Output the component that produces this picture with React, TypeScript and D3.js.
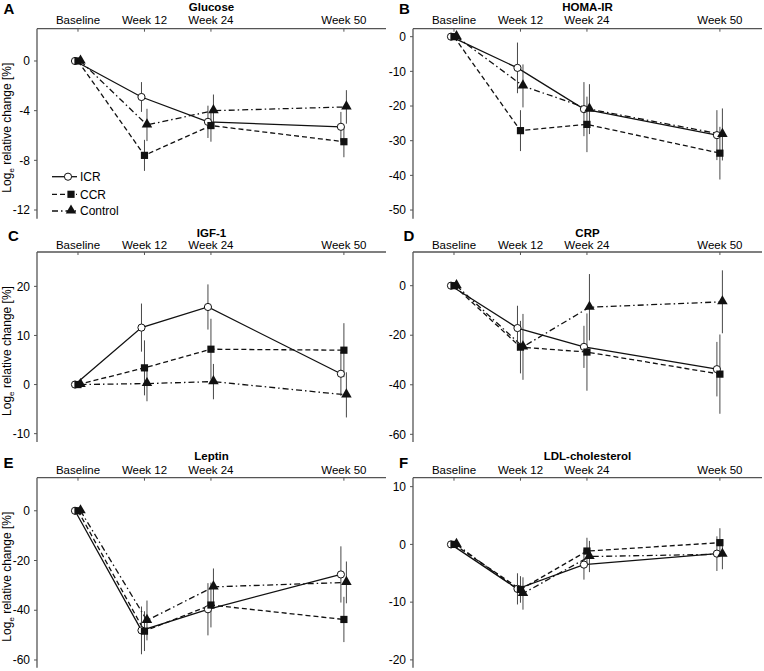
import React from "react";
import * as d3 from "d3";

// time points: plotted position (weeks) and label
const timeWeeks = [0, 12, 24, 48];
const timeLabels = ["Baseline", "Week 12", "Week 24", "Week 50"];
const groups = ["ICR", "CCR", "Control"];

// means per group [ICR, CCR, Control], then errors
const glucoseMeans = [
  [0, -2.9, -4.9, -5.3],
  [0, -7.6, -5.2, -6.5],
  [0, -5.15, -4.0, -3.7],
];
const glucoseErrs = [
  [0, 1.2, 1.3, 1.2],
  [0, 1.25, 1.3, 1.25],
  [0, 1.3, 1.3, 1.35],
];
const homaMeans = [
  [0, -9, -20.9, -28.4],
  [0, -27.1, -25.3, -33.6],
  [0, -14.2, -20.9, -28.2],
];
const homaErrs = [
  [0, 7.3, 7.8, 7.2],
  [0, 5.9, 8, 7.6],
  [0, 6.2, 7.2, 7.5],
];
const igfMeans = [
  [0, 11.6, 15.8, 2.2],
  [0, 3.4, 7.2, 7.0],
  [0, 0.2, 0.6, -2.1],
];
const igfErrs = [
  [0, 4.9, 4.6, 4.5],
  [0, 5.6, 6.2, 5.5],
  [0, 3.6, 3.6, 4.6],
];
const crpMeans = [
  [0, -17.1, -24.7, -33.7],
  [0, -24.8, -26.8, -35.7],
  [0, -24.7, -8.7, -6.5],
];
const crpErrs = [
  [0, 9, 8.5, 11],
  [0, 10.6, 15.6, 16],
  [0, 13.3, 13.4, 12.7],
];
const leptinMeans = [
  [0, -48.1, -39.6, -25.6],
  [0, -48.4, -37.9, -43.7],
  [0, -44.1, -30.6, -28.8],
];
const leptinErrs = [
  [0, 9.6, 10.5, 11.3],
  [0, 8, 9, 9.1],
  [0, 8, 7.4, 8.4],
];
const ldlMeans = [
  [0, -7.7, -3.5, -1.6],
  [0, -7.8, -1.15, 0.3],
  [0, -8.5, -2.1, -1.7],
];
const ldlErrs = [
  [0, 2.7, 2.6, 3],
  [0, 2.3, 2.3, 2.5],
  [0, 2.8, 2.7, 2.6],
];

const panels = [
  { letter: "A", title: "Glucose", means: glucoseMeans, errs: glucoseErrs, domain: [-12.7, 2.6], ticks: [0, -4, -8, -12], col: 0, row: 0, lx: 3.5 },
  { letter: "B", title: "HOMA-IR", means: homaMeans, errs: homaErrs, domain: [-52.5, 2.3], ticks: [0, -10, -20, -30, -40, -50], col: 1, row: 0, lx: 399 },
  { letter: "C", title: "IGF-1", means: igfMeans, errs: igfErrs, domain: [-11.7, 27], ticks: [20, 10, 0, -10], col: 0, row: 1, lx: 8 },
  { letter: "D", title: "CRP", means: crpMeans, errs: crpErrs, domain: [-63.1, 13.6], ticks: [0, -20, -40, -60], col: 1, row: 1, lx: 403.5 },
  { letter: "E", title: "Leptin", means: leptinMeans, errs: leptinErrs, domain: [-63.1, 13.3], ticks: [0, -20, -40, -60], col: 0, row: 2, lx: 3.5 },
  { letter: "F", title: "LDL-cholesterol", means: ldlMeans, errs: ldlErrs, domain: [-21.35, 11.55], ticks: [10, 0, -10, -20], col: 1, row: 2, lx: 399 },
];

const colLeft = [37, 413];
const rows = [
  { top: 28.7, titleY: 10.5, letterY: 13.5, tickY: 24 },
  { top: 252, titleY: 237, letterY: 240.5, tickY: 248.8 },
  { top: 477.7, titleY: 459.5, letterY: 468, tickY: 474 },
];
const plotW = 349;
const plotH = 190;
const font = "'Liberation Sans', Arial, sans-serif";
const axisColor = "#555";
const dashes = [null, "5,3", "6,3,1.5,3"];
const dodge = [-3, 0, 2.5];

const x = d3.scaleLinear().domain([-7.4, 55.6]).range([0, plotW]);

function Marker({ g, cx, cy }: { g: number; cx: number; cy: number }) {
  if (g === 0)
    return <circle cx={cx} cy={cy} r={3.6} fill="white" stroke="#111" strokeWidth={1} />;
  if (g === 1)
    return <rect x={cx - 3.6} y={cy - 3.6} width={7.2} height={7.2} fill="#111" />;
  const tri = d3.symbol().type(d3.symbolTriangle).size(48)();
  return <path d={tri || ""} transform={`translate(${cx},${cy - 0.5})`} fill="#111" />;
}

function Panel({ p }: { p: (typeof panels)[number] }) {
  const left = colLeft[p.col];
  const r = rows[p.row];
  const y = d3.scaleLinear().domain(p.domain).range([plotH, 0]);
  const line = d3
    .line<number>()
    .x((_, i) => x(timeWeeks[i]))
    .y((d) => y(d));
  return (
    <g>
      <text x={p.lx} y={r.letterY} fontFamily={font} fontWeight="bold" fontSize={15}>
        {p.letter}
      </text>
      <text x={left + plotW / 2} y={r.titleY} fontFamily={font} fontWeight="bold" fontSize={11.5} textAnchor="middle">
        {p.title}
      </text>
      {timeWeeks.map((w, i) => (
        <text key={i} x={left + x(w)} y={r.tickY} fontFamily={font} fontSize={11.5} textAnchor="middle">
          {timeLabels[i]}
        </text>
      ))}
      <g transform={`translate(${left},${r.top})`}>
        <line x1={0} x2={plotW} y1={0} y2={0} stroke={axisColor} strokeWidth={1.3} />
        <line x1={0} x2={0} y1={0} y2={plotH} stroke={axisColor} strokeWidth={1.3} />
        {timeWeeks.map((w, i) => (
          <line key={i} x1={x(w)} x2={x(w)} y1={0} y2={3} stroke={axisColor} strokeWidth={1} />
        ))}
        {p.ticks.map((t) => (
          <g key={t}>
            <line x1={-3} x2={0} y1={y(t)} y2={y(t)} stroke={axisColor} strokeWidth={1} />
            <text x={-7} y={y(t)} dy="0.35em" fontFamily={font} fontSize={12} textAnchor="end">
              {t}
            </text>
          </g>
        ))}
        {p.means.map((m, g) => (
          <path
            key={"l" + g}
            d={line(m) || ""}
            transform={`translate(${dodge[g]},0)`}
            fill="none"
            stroke="#111"
            strokeWidth={1.3}
            strokeDasharray={dashes[g] || undefined}
          />
        ))}
        {p.means.map((m, g) =>
          m.map((v, i) =>
            p.errs[g][i] > 0 ? (
              <line
                key={`e${g}-${i}`}
                x1={x(timeWeeks[i]) + dodge[g]}
                x2={x(timeWeeks[i]) + dodge[g]}
                y1={y(v + p.errs[g][i])}
                y2={y(v - p.errs[g][i])}
                stroke="#333"
                strokeWidth={0.9}
              />
            ) : null
          )
        )}
        {p.means.map((m, g) =>
          m.map((v, i) => <Marker key={`m${g}-${i}`} g={g} cx={x(timeWeeks[i]) + dodge[g]} cy={y(v)} />)
        )}
      </g>
      {p.col === 0 && (
        <text
          transform={`translate(11,${r.top + plotH / 2 + 4}) rotate(-90)`}
          fontFamily={font}
          fontSize={12}
          textAnchor="middle"
        >
          Log
          <tspan fontSize={8} dy={3}>e</tspan>
          <tspan dy={-3}> relative change [%]</tspan>
        </text>
      )}
    </g>
  );
}

function Legend() {
  const rowsY = [176.7, 194.3, 211];
  return (
    <g>
      {groups.map((name, g) => (
        <g key={name}>
          <line x1={52} x2={77} y1={rowsY[g]} y2={rowsY[g]} stroke="#111" strokeWidth={1.3} strokeDasharray={dashes[g] || undefined} />
          <Marker g={g} cx={g === 0 ? 68 : 71} cy={rowsY[g]} />
          <text x={80} y={rowsY[g]} dy="0.35em" fontFamily={font} fontSize={12}>
            {name}
          </text>
        </g>
      ))}
    </g>
  );
}

export default function App() {
  return (
    <svg width={764} height={671} style={{ position: "absolute", left: 0, top: 0, background: "white" }}>
      {panels.map((p) => (
        <Panel key={p.letter} p={p} />
      ))}
      <Legend />
    </svg>
  );
}
